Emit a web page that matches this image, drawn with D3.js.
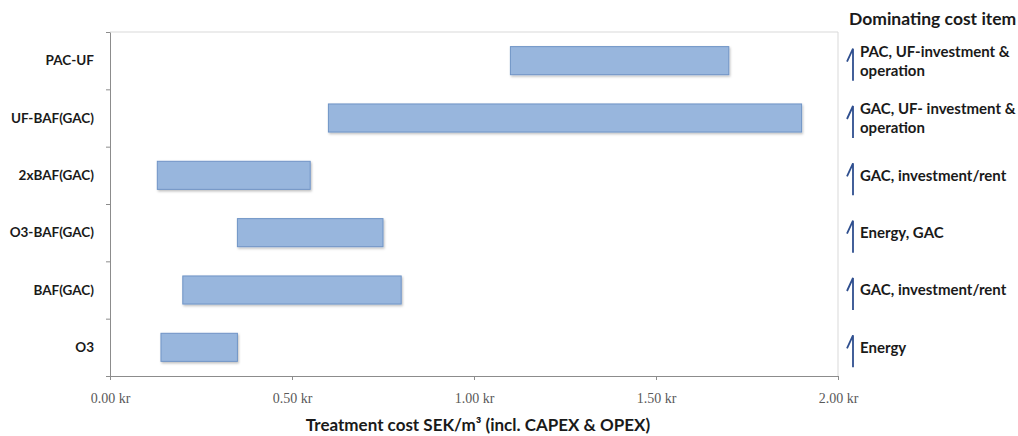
<!DOCTYPE html>
<html>
<head>
<meta charset="utf-8">
<script src="https://cdn.jsdelivr.net/npm/d3@7"></script>
<style>
  html, body { margin: 0; padding: 0; background: #fff; }
  svg { display: block; }
  .bold { font-family: Lato, "Open Sans", sans-serif; font-weight: bold; fill: #1a1a1a; }
</style>
</head>
<body>
<svg id="chart" width="1018" height="436"></svg>
<script>
const categories = ['PAC-UF', 'UF-BAF(GAC)', '2xBAF(GAC)', 'O3-BAF(GAC)', 'BAF(GAC)', 'O3'];
const costLow = [1.10, 0.60, 0.13, 0.35, 0.20, 0.14];
const costHigh = [1.70, 1.90, 0.55, 0.75, 0.80, 0.35];
const dominatingItems = [
    ['PAC, UF-investment &', 'operation'],
    ['GAC, UF- investment &', 'operation'],
    ['GAC, investment/rent'],
    ['Energy, GAC'],
    ['GAC, investment/rent'],
    ['Energy']
];
const xTicks = [0, 0.5, 1.0, 1.5, 2.0];
const xTitle = 'Treatment cost SEK/m³ (incl. CAPEX & OPEX)';
const sideTitle = 'Dominating cost item';

const LEFT = 110, RIGHT = 838, TOP = 32, BOTTOM = 376;

const svg = d3.select('#chart');

const x = d3.scaleLinear().domain([0, 2]).range([LEFT, RIGHT]);
const y = d3.scaleBand().domain(categories).range([TOP, BOTTOM]);
const barH = y.bandwidth() * 0.49;

// shadow for the bars
const defs = svg.append('defs');
defs.append('filter').attr('id', 'shadow')
    .attr('x', '-5%').attr('y', '-20%').attr('width', '110%').attr('height', '160%')
    .append('feDropShadow')
    .attr('dx', 1).attr('dy', 1.5).attr('stdDeviation', 1)
    .attr('flood-color', '#000').attr('flood-opacity', 0.25);

// plot frame (top + right)
svg.append('path')
    .attr('d', `M${LEFT},${TOP}H${RIGHT}V${BOTTOM}`)
    .attr('fill', 'none')
    .attr('stroke', '#d9d9d9');

// left axis with ticks at the band boundaries
const yEdges = d3.scaleLinear().domain([0, categories.length]).range([TOP, BOTTOM]);
svg.append('g')
    .attr('transform', `translate(${LEFT},0)`)
    .call(d3.axisLeft(yEdges).tickValues(d3.range(categories.length + 1)).tickFormat('').tickSize(4).tickSizeOuter(0))
    .call(g => g.selectAll('path, line').attr('stroke', '#8c8c8c'));

// category labels
svg.append('g').selectAll('text')
    .data(categories)
    .join('text')
    .attr('class', 'bold')
    .attr('x', 94)
    .attr('y', d => y(d) + y.bandwidth() / 2)
    .attr('dy', '0.35em')
    .attr('text-anchor', 'end')
    .attr('font-size', 13.5)
    .text(d => d);

// bottom axis
const xAxis = svg.append('g')
    .attr('transform', `translate(0,${BOTTOM})`)
    .call(d3.axisBottom(x).tickValues(xTicks).tickFormat(d => d.toFixed(2) + ' kr').tickSize(4).tickSizeOuter(0));
xAxis.selectAll('path, line').attr('stroke', '#8c8c8c');
xAxis.selectAll('text')
    .attr('font-family', '"Liberation Serif", serif')
    .attr('font-size', 14)
    .attr('fill', '#595959')
    .attr('dy', '1.45em');

// bars
svg.append('g').selectAll('rect')
    .data(categories)
    .join('rect')
    .attr('x', (d, i) => x(costLow[i]))
    .attr('width', (d, i) => x(costHigh[i]) - x(costLow[i]))
    .attr('y', d => y(d) + (y.bandwidth() - barH) / 2)
    .attr('height', barH)
    .attr('fill', '#98b6dd')
    .attr('stroke', '#6f94c6')
    .attr('stroke-width', 1)
    .attr('filter', 'url(#shadow)');

// x axis title
svg.append('text')
    .attr('class', 'bold')
    .attr('x', 478)
    .attr('y', 431)
    .attr('text-anchor', 'middle')
    .attr('font-size', 17)
    .text(xTitle);

// side annotations
svg.append('text')
    .attr('class', 'bold')
    .attr('x', 849)
    .attr('y', 25)
    .attr('font-size', 17.5)
    .text(sideTitle);

const notes = svg.append('g').selectAll('g')
    .data(categories)
    .join('g')
    .attr('transform', d => `translate(0,${y(d) + y.bandwidth() / 2})`);

notes.append('path')
    .attr('d', 'M847,1 L853,-12 V20')
    .attr('fill', 'none')
    .attr('stroke', '#2f4f8f')
    .attr('stroke-width', 1.8);

notes.each(function(d, i) {
    const lines = dominatingItems[i];
    const g = d3.select(this);
    const off = lines.length > 1 ? -9 : 0;
    lines.forEach((t, k) => {
        g.append('text')
            .attr('class', 'bold')
            .attr('x', 860)
            .attr('y', off + k * 19)
            .attr('dy', '0.35em')
            .attr('font-size', 15)
            .text(t);
    });
});
</script>
</body>
</html>
